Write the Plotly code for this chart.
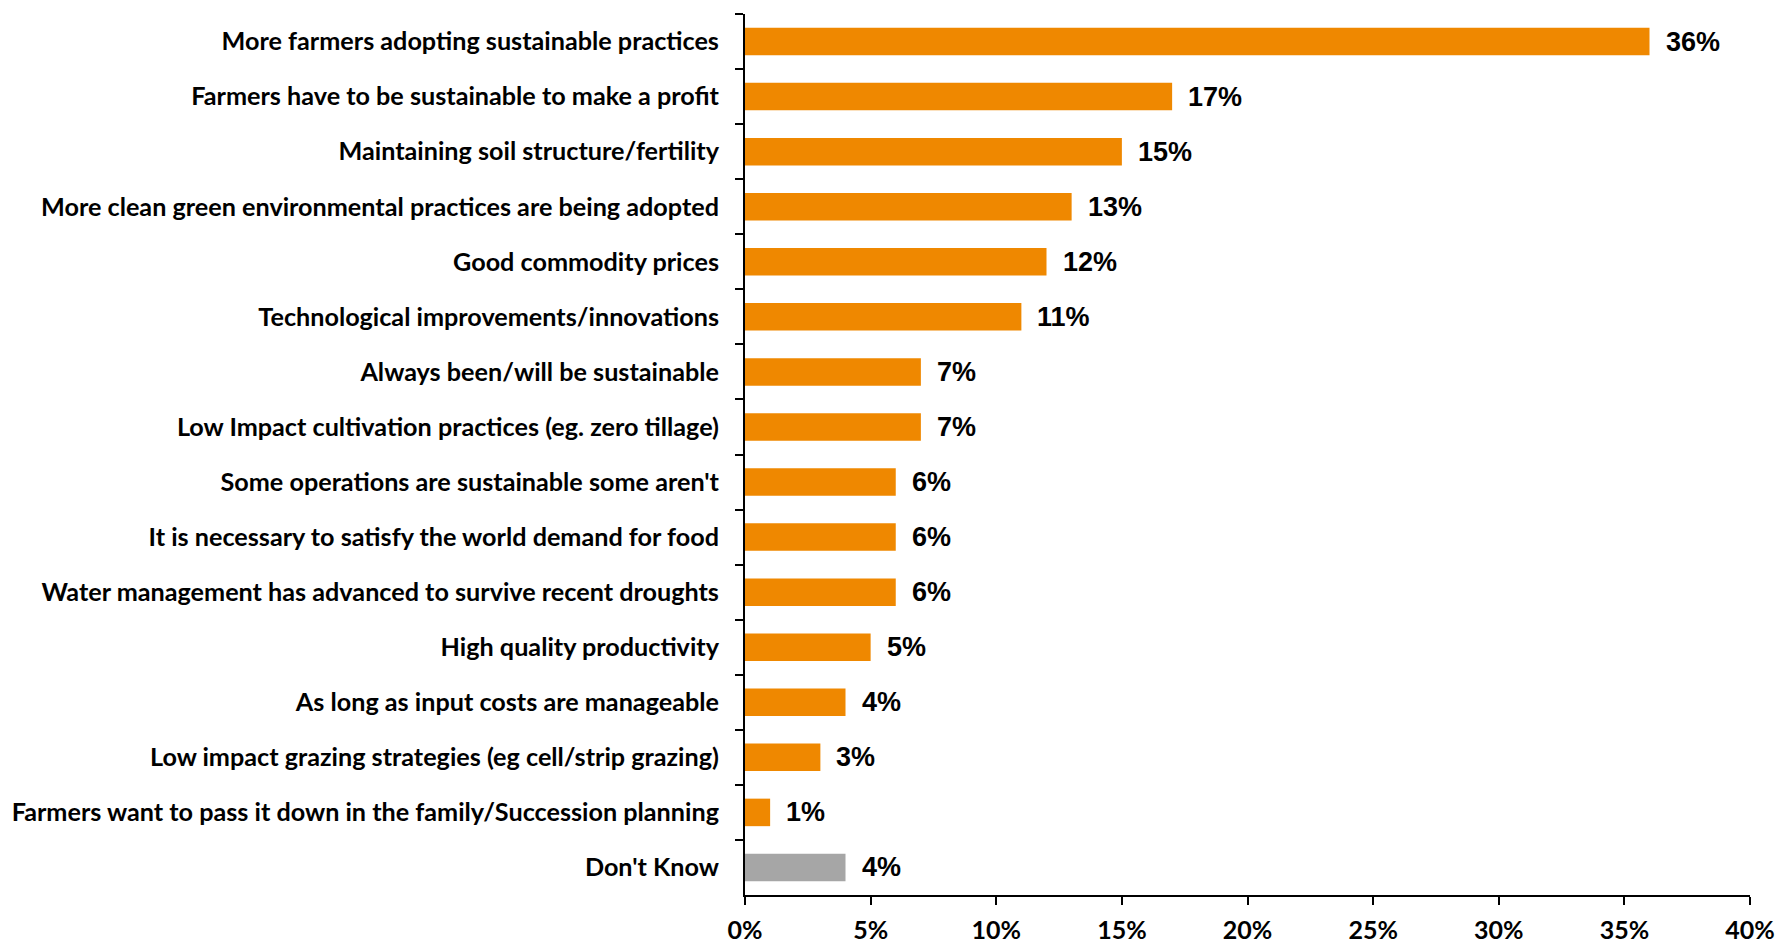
import plotly.graph_objects as go

categories = [
    "More farmers adopting sustainable practices",
    "Farmers have to be sustainable to make a profit",
    "Maintaining soil structure/fertility",
    "More clean green environmental practices are being adopted",
    "Good commodity prices",
    "Technological improvements/innovations",
    "Always been/will be sustainable",
    "Low Impact cultivation practices (eg. zero tillage)",
    "Some operations are sustainable some aren't",
    "It is necessary to satisfy the world demand for food",
    "Water management has advanced to survive recent droughts",
    "High quality productivity",
    "As long as input costs are manageable",
    "Low impact grazing strategies (eg cell/strip grazing)",
    "Farmers want to pass it down in the family/Succession planning",
    "Don't Know",
]
values = [36, 17, 15, 13, 12, 11, 7, 7, 6, 6, 6, 5, 4, 3, 1, 4]

ORANGE = "#EF8800"
GREY = "#A6A6A6"
colors = [GREY if c == "Don't Know" else ORANGE for c in categories]

fig = go.Figure()
fig.add_trace(go.Bar(
    x=values,
    y=categories,
    orientation="h",
    marker=dict(color=colors, line=dict(width=0)),
    width=0.5,
    hoverinfo="skip",
))

# value labels to the right of each bar
for c, v in zip(categories, values):
    fig.add_annotation(
        x=v, y=c, text=f"{v}%", showarrow=False,
        xanchor="left", yanchor="middle", xshift=14,
        font=dict(family="Liberation Sans, Arial", size=27, color="black", weight="bold"),
    )

fig.update_layout(
    width=1776, height=940,
    margin=dict(l=745, r=26, t=14, b=45),
    paper_bgcolor="white", plot_bgcolor="white",
    showlegend=False,
    font=dict(family="Lato", color="black"),
)
fig.update_xaxes(
    range=[0, 40], dtick=5, ticksuffix="%",
    automargin=False,
    showgrid=False, zeroline=False,
    showline=True, linecolor="black", linewidth=2,
    ticks="outside", ticklen=8, tickwidth=2, tickcolor="black",
    ticklabelstandoff=4,
    tickfont=dict(family="Lato", size=25, weight="bold", color="black"),
)
fig.update_yaxes(
    autorange="reversed", type="category",
    automargin=False,
    showgrid=False, zeroline=False,
    showline=True, linecolor="black", linewidth=2,
    ticks="outside", ticklen=8, tickwidth=2, tickcolor="black",
    tickson="boundaries", ticklabelstandoff=19,
    tickfont=dict(family="Lato", size=25.2, weight="bold", color="black"),
)

fig.write_html("out.html")
